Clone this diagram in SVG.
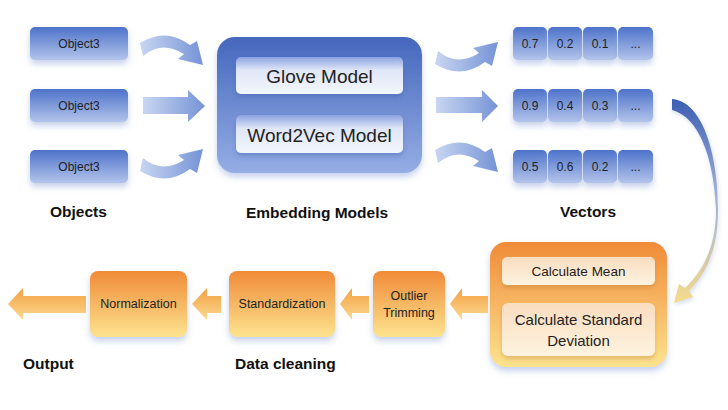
<svg xmlns="http://www.w3.org/2000/svg" width="728" height="410" viewBox="0 0 728 410">
<defs>
<linearGradient id="gBlue" x1="0" y1="0" x2="0" y2="1"><stop offset="0" stop-color="#4d72ca"/><stop offset="1" stop-color="#b4c5eb"/></linearGradient>
<linearGradient id="gBig" x1="0" y1="0" x2="0" y2="1"><stop offset="0" stop-color="#4567bd"/><stop offset="1" stop-color="#95aee4"/></linearGradient>
<linearGradient id="gInner" x1="0" y1="0" x2="0" y2="1"><stop offset="0" stop-color="#8aa2e0"/><stop offset="0.35" stop-color="#dfe6f7"/><stop offset="1" stop-color="#f3f6fc"/></linearGradient>
<linearGradient id="gOr" x1="0" y1="0" x2="0" y2="1"><stop offset="0" stop-color="#f08b38"/><stop offset="1" stop-color="#fde38f"/></linearGradient>
<linearGradient id="gOrIn" x1="0" y1="0" x2="0" y2="1"><stop offset="0" stop-color="#f9ddc0"/><stop offset="1" stop-color="#fef3df"/></linearGradient>
<linearGradient id="gArR" x1="0" y1="0" x2="1" y2="0"><stop offset="0" stop-color="#c9d6f2"/><stop offset="1" stop-color="#7593d6"/></linearGradient>
<linearGradient id="gArO" x1="0" y1="0" x2="0" y2="1"><stop offset="0" stop-color="#f2a043"/><stop offset="1" stop-color="#fcd98f"/></linearGradient>
<linearGradient id="gCurve" gradientUnits="userSpaceOnUse" x1="0" y1="100" x2="0" y2="305"><stop offset="0" stop-color="#3d5fb2"/><stop offset="0.45" stop-color="#9fafd6"/><stop offset="1" stop-color="#f7dc8a"/></linearGradient>
<filter id="sh" x="-20%" y="-20%" width="140%" height="150%"><feDropShadow dx="0" dy="4" stdDeviation="3" flood-color="#8ea4d8" flood-opacity="0.5"/></filter>
<filter id="shi" x="-20%" y="-20%" width="140%" height="160%"><feDropShadow dx="0" dy="3" stdDeviation="2" flood-color="#3c5aa8" flood-opacity="0.35"/></filter>
<filter id="sho" x="-20%" y="-20%" width="140%" height="160%"><feDropShadow dx="0" dy="3" stdDeviation="2" flood-color="#b07a30" flood-opacity="0.35"/></filter>
<filter id="shc" x="-50%" y="-10%" width="200%" height="130%"><feDropShadow dx="1" dy="2" stdDeviation="2" flood-color="#8ea4d8" flood-opacity="0.4"/></filter>
</defs>
<style>
.b{fill:url(#gBlue);filter:url(#sh)}
.o{fill:url(#gOr);filter:url(#sh)}
.t{font-family:"Liberation Sans",Arial,sans-serif;fill:#222;text-anchor:middle}
.lb{font-family:"Liberation Sans",Arial,sans-serif;font-weight:bold;font-size:15.5px;fill:#111}
.ar{fill:url(#gArR)}
.ao{fill:url(#gArO)}
</style>

<g id="obj1"><rect class="b" x="30" y="27" width="98" height="33" rx="5"/><text class="t" x="79" y="48" font-size="12">Object3</text></g>
<g id="obj2"><rect class="b" x="30" y="89" width="98" height="33" rx="5"/><text class="t" x="79" y="110" font-size="12">Object3</text></g>
<g id="obj3"><rect class="b" x="30" y="150" width="98" height="33" rx="5"/><text class="t" x="79" y="171" font-size="12">Object3</text></g>

<g id="embedding">
<rect x="217" y="37" width="205" height="136" rx="18" fill="url(#gBig)" filter="url(#sh)"/>
<g id="glove"><rect x="236" y="57" width="167" height="37" rx="5" fill="url(#gInner)" filter="url(#shi)"/><text class="t" x="319.5" y="83" font-size="19">Glove Model</text></g>
<g id="word2vec"><rect x="236" y="115" width="167" height="38" rx="5" fill="url(#gInner)" filter="url(#shi)"/><text class="t" x="319.5" y="142" font-size="19">Word2Vec Model</text></g>
</g>

<g id="vec1">
<rect class="b" x="513" y="27" width="34" height="33" rx="5"/><rect class="b" x="548" y="27" width="34" height="33" rx="5"/><rect class="b" x="583" y="27" width="34" height="33" rx="5"/><rect class="b" x="618" y="27" width="35" height="33" rx="5"/>
<text class="t" font-size="12" y="48"><tspan x="530">0.7</tspan><tspan x="565">0.2</tspan><tspan x="600">0.1</tspan><tspan x="635.5">...</tspan></text>
</g>
<g id="vec2">
<rect class="b" x="513" y="89" width="34" height="33" rx="5"/><rect class="b" x="548" y="89" width="34" height="33" rx="5"/><rect class="b" x="583" y="89" width="34" height="33" rx="5"/><rect class="b" x="618" y="89" width="35" height="33" rx="5"/>
<text class="t" font-size="12" y="110"><tspan x="530">0.9</tspan><tspan x="565">0.4</tspan><tspan x="600">0.3</tspan><tspan x="635.5">...</tspan></text>
</g>
<g id="vec3">
<rect class="b" x="513" y="150" width="34" height="33" rx="5"/><rect class="b" x="548" y="150" width="34" height="33" rx="5"/><rect class="b" x="583" y="150" width="34" height="33" rx="5"/><rect class="b" x="618" y="150" width="35" height="33" rx="5"/>
<text class="t" font-size="12" y="171"><tspan x="530">0.5</tspan><tspan x="565">0.6</tspan><tspan x="600">0.2</tspan><tspan x="635.5">...</tspan></text>
</g>

<g id="stats">
<rect x="490" y="242" width="177" height="125" rx="16" class="o"/>
<g id="mean"><rect x="502" y="257" width="153" height="28" rx="5" fill="url(#gOrIn)" filter="url(#sho)"/><text class="t" x="578.5" y="276" font-size="13.5">Calculate Mean</text></g>
<g id="std"><rect x="502" y="303" width="153" height="53" rx="6" fill="url(#gOrIn)" filter="url(#sho)"/><text class="t" x="578.5" y="325" font-size="15">Calculate Standard</text><text class="t" x="578.5" y="346" font-size="15">Deviation</text></g>
</g>

<g id="outlier"><rect class="o" x="373" y="271" width="72" height="66" rx="8"/><text class="t" x="409" y="300" font-size="12.5">Outlier</text><text class="t" x="409" y="317" font-size="12.5">Trimming</text></g>
<g id="standardization"><rect class="o" x="229" y="271" width="106" height="66" rx="8"/><text class="t" x="282" y="308" font-size="12.5">Standardization</text></g>
<g id="normalization"><rect class="o" x="90" y="271" width="97" height="66" rx="8"/><text class="t" x="138.5" y="308" font-size="12.5">Normalization</text></g>

<g id="labels">
<text class="lb" x="50" y="217">Objects</text>
<text class="lb" x="246" y="218">Embedding Models</text>
<text class="lb" x="560" y="217">Vectors</text>
<text class="lb" x="23" y="369">Output</text>
<text class="lb" x="235" y="369">Data cleaning</text>
</g>

<g id="connectors">
<path class="ar" d="M140,43 Q166,27 190,45 L197,41 L203,65 L178,59 L184,54 Q162,40 143,56 Z"/>
<path class="ar" d="M143,97 L188,97 L188,90 L205,106 L188,122 L188,114 L143,114 Z"/>
<path class="ar" d="M140,171 Q166,187 190,169 L197,173 L203,149 L178,155 L184,160 Q162,174 143,158 Z"/>
<path class="ar" d="M435,64 Q461,80 485,62 L492,66 L498,42 L473,48 L479,53 Q457,67 438,51 Z"/>
<path class="ar" d="M436,97 L482,97 L482,90 L498,106 L482,122 L482,113 L436,113 Z"/>
<path class="ar" d="M435,150 Q461,134 485,152 L492,148 L498,172 L473,166 L479,161 Q457,147 438,163 Z"/>
<path fill="url(#gCurve)" filter="url(#shc)" d="M672,99 C701,101 718,150 718,210 C718,250 706,274 689,291 L693,297 L674,303 L679,284 L685,288 C702,272 716,248 716,210 C714,158 699,117 672,110 Z"/>
<path class="ao" d="M488,296 L462,296 L462,288 L450,304 L462,320 L462,313 L488,313 Z"/>
<path class="ao" d="M369,296 L352,296 L352,288 L340,304 L352,320 L352,313 L369,313 Z"/>
<path class="ao" d="M221,296 L207,296 L207,288 L192,304 L207,320 L207,313 L221,313 Z"/>
<path class="ao" d="M86,296 L23,296 L23,288 L8,304 L23,320 L23,313 L86,313 Z"/>
</g>
</svg>
